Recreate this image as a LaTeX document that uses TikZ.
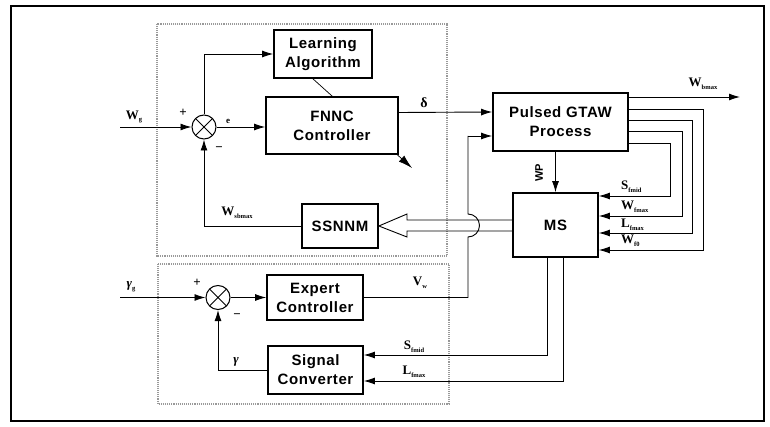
\documentclass[tikz,border=0pt]{standalone}
\usepackage{fontspec}
\setmainfont{Liberation Serif}
\newfontfamily\boxfont{Liberation Sans}[LetterSpace=4]
\newfontfamily\wpfont{Liberation Sans}
\usetikzlibrary{arrows.meta,calc}
\newcommand\mysub[2]{#1\raisebox{-0.45ex}{\fontsize{6.5}{6.5}\selectfont #2}}
\begin{document}
\begin{tikzpicture}[x=1pt,y=-1pt,
 blk/.style={draw,line width=1.7pt,fill=white,align=center,inner sep=0pt,
   font=\boxfont\bfseries\fontsize{15}{19}\selectfont},
 ln/.style={line width=0.9pt},
 con/.style={line width=0.9pt,-{Latex[length=11pt,width=7pt]}},
 sumj/.style={circle,draw,line width=1pt,minimum size=24pt,inner sep=0pt,fill=white,
   path picture={\draw[line width=1pt] (path picture bounding box.north west)--(path picture bounding box.south east)
     (path picture bounding box.north east)--(path picture bounding box.south west);}},
 lab/.style={font=\bfseries\fontsize{13}{15}\selectfont,inner sep=0pt},
 dotbox/.style={densely dotted,line width=1.1pt,gray!80}
]
\useasboundingbox (0,0) rectangle (770,427);
\draw[line width=1.6pt] (11,6) rectangle (764,421);
% dotted regions
\draw[dotbox] (157,24) rectangle (447,256);
\draw[dotbox] (158,264) rectangle (449,404);
% adaptation arrow (behind FNNC)
\coordinate (adS) at (312,78);
\coordinate (adE) at (412,168);
\draw[line width=0.7pt,-{Latex[length=14pt,width=8pt]}] (adS) -- (adE);
% blocks
\node[blk,minimum width=98pt,minimum height=48pt] (LA) at (323,54) {Learning\\Algorithm};
\node[blk,minimum width=132pt,minimum height=57pt] (FNNC) at (332,125.5) {FNNC\\Controller};
\node[blk,minimum width=135pt,minimum height=58pt] (GTAW) at (560.5,122) {Pulsed GTAW\\Process};
\node[blk,minimum width=85pt,minimum height=64pt] (MS) at (555.5,225) {MS};
\node[blk,minimum width=76pt,minimum height=44pt] (SSNNM) at (340,226) {SSNNM};
\node[blk,minimum width=96pt,minimum height=45pt] (EC) at (315,297.5) {Expert\\Controller};
\node[blk,minimum width=95pt,minimum height=48pt] (SC) at (315.5,370) {Signal\\Converter};
\node[sumj] (S1) at (204,127) {};
\node[sumj] (S2) at (218,297.5) {};
% free ends
\coordinate (Wg) at (120,127);
\coordinate (Gg) at (120,297.5);
\coordinate (Wout) at (740,97);
% upper loop
\draw[con] (Wg) -- (S1);
\draw[con] (S1) -- (FNNC.west |- S1);
\draw[con] (S1.north) |- (LA.west);
\draw[con] (SSNNM.west) -| (S1.south);
\draw[con] ($(FNNC.east)+(0,-13)$) -- ($(GTAW.west)+(0,-10)$);
\draw[con] ($(GTAW.east)+(0,-25)$) -- (Wout);
\draw[con] (GTAW.south -| MS.north) -- (MS.north);
% feedback bundle
\draw[con] ($(GTAW.east)+(0,-13)$) -- ++(75,0) |- ($(MS.east)+(0,25)$);
\draw[con] ($(GTAW.east)+(0,-2)$) -- ++(64,0) |- ($(MS.east)+(0,8)$);
\draw[con] ($(GTAW.east)+(0,9)$) -- ++(54,0) |- ($(MS.east)+(0,-9)$);
\draw[con] ($(GTAW.east)+(0,21)$) -- ++(42,0) |- ($(MS.east)+(0,-29)$);
% hollow arrow MS -> SSNNM
\draw[line width=0.9pt,line join=miter] ($(MS.west)+(0,-5)$) -- (407,220) -- (407,214) -- (SSNNM.east) -- (407,237) -- (407,231) -- ($(MS.west)+(0,6)$);
% V_w line with hop
\draw[ln] (EC.east) -- (468,297.5) -- (468,237) arc[start angle=90,end angle=-90,radius=11.5] -- (468,136);
\coordinate (vwTop) at (468,136);
\draw[con] (vwTop) -- ($(GTAW.west)+(0,14)$);
% lower loop
\draw[con] (Gg) -- (S2);
\draw[con] (S2) -- (EC.west);
\draw[con] (SC.west) -| (S2.south);
\draw[con] ($(MS.south)+(-8,0)$) |- ($(SC.east)+(0,-15)$);
\draw[con] ($(MS.south)+(8,0)$) |- ($(SC.east)+(0,11)$);
% labels
\node[lab] at (134,117) {\mysub{W}{g}};
\node[lab] at (183,113) {+};
\node[lab] at (219,149) {−};
\node[lab] at (228,121) {\fontsize{9}{9}\selectfont e};
\node[lab] at (424,103) {\fontsize{14}{14}\selectfont δ};
\node[lab] at (703,84) {\mysub{W}{bmax}};
\node[lab,rotate=90,font=\wpfont\bfseries\fontsize{11}{11}\selectfont] at (539,173) {WP};
\node[lab,anchor=west] at (621,187) {\mysub{S}{fmid}};
\node[lab,anchor=west] at (621,207) {\mysub{W}{fmax}};
\node[lab,anchor=west] at (621,225) {\mysub{L}{fmax}};
\node[lab,anchor=west] at (621,241) {\mysub{W}{f0}};
\node[lab] at (237,213) {\mysub{W}{sbmax}};
\node[lab] at (131,287) {\mysub{\textit{γ}}{g}};
\node[lab] at (197,283) {+};
\node[lab] at (237,316) {−};
\node[lab] at (236,362) {\textit{γ}};
\node[lab] at (420,283) {\mysub{V}{w}};
\node[lab] at (414,347) {\mysub{S}{fmid}};
\node[lab] at (414,372) {\mysub{L}{fmax}};
\end{tikzpicture}
\end{document}
